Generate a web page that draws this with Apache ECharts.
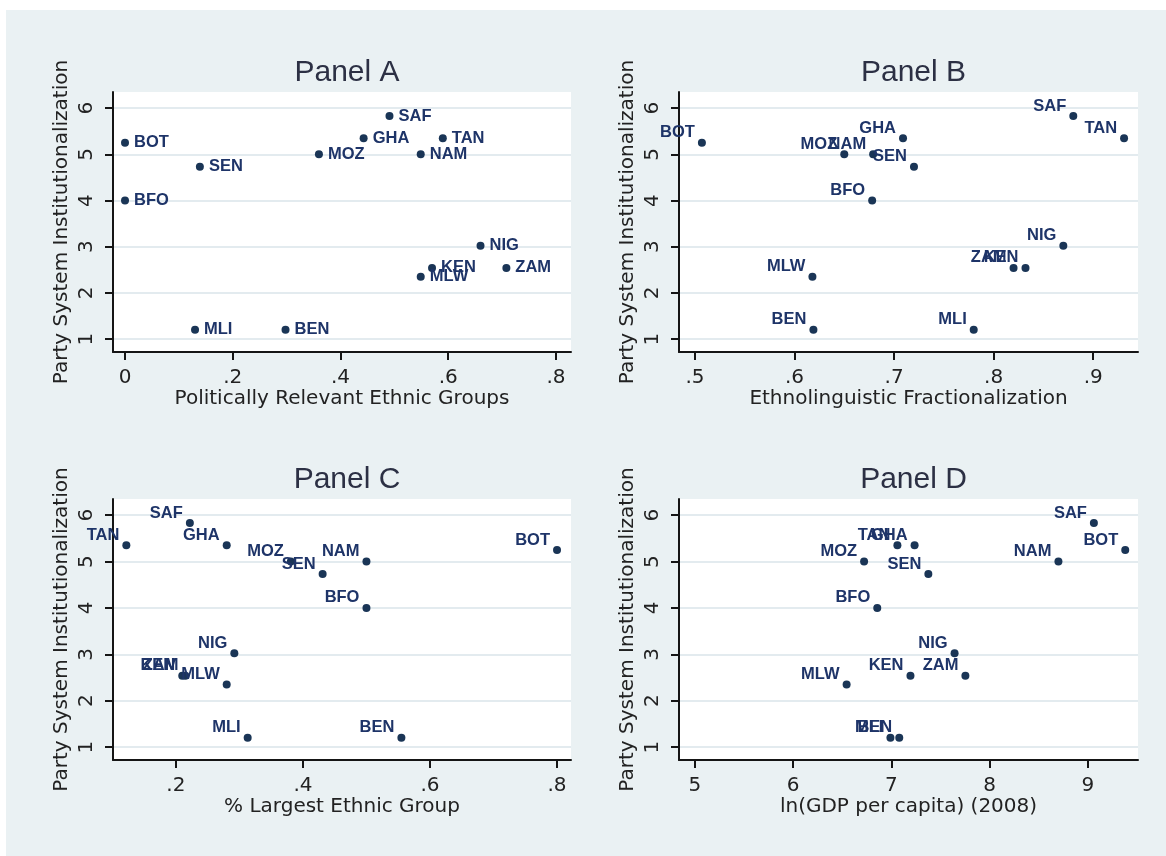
<!DOCTYPE html>
<html>
<head>
<meta charset="utf-8">
<script src="https://cdn.jsdelivr.net/npm/echarts@6/dist/echarts.min.js"></script>
<style>
  html, body { margin: 0; padding: 0; background: #ffffff; }
  #main { position: absolute; left: 6px; top: 10px; width: 1160px; height: 846px; }
</style>
</head>
<body>
<div id="main"></div>
<script>
// ---- data ----
const countries = ['BOT','BFO','SEN','MLI','BEN','MOZ','GHA','SAF','TAN','NAM','NIG','KEN','MLW','ZAM'];
const partySysInst = [5.25, 4.0, 4.73, 1.2, 1.2, 5.0, 5.35, 5.83, 5.35, 5.0, 3.02, 2.54, 2.35, 2.54];
const polRelevantGroups = [0, 0, 0.139, 0.130, 0.298, 0.360, 0.443, 0.491, 0.590, 0.549, 0.660, 0.570, 0.549, 0.708];
const ethnoFrac = [0.507, 0.678, 0.720, 0.780, 0.619, 0.650, 0.709, 0.880, 0.931, 0.679, 0.870, 0.832, 0.618, 0.820];
const largestGroup = [0.800, 0.500, 0.431, 0.313, 0.555, 0.381, 0.280, 0.222, 0.122, 0.500, 0.292, 0.210, 0.280, 0.215];
const lnGdp = [9.38, 6.856, 7.376, 6.99, 7.08, 6.722, 7.236, 9.061, 7.061, 8.70, 7.643, 7.194, 6.544, 7.753];

const panelTitles = ['Panel A', 'Panel B', 'Panel C', 'Panel D'];
const xTitles = ['Politically Relevant Ethnic Groups', 'Ethnolinguistic Fractionalization', '% Largest Ethnic Group', 'ln(GDP per capita) (2008)'];
const yTitle = 'Party System Institutionalization';
const xTicksA = [0, 0.2, 0.4, 0.6, 0.8];
const xTicksB = [0.5, 0.6, 0.7, 0.8, 0.9];
const xTicksC = [0.2, 0.4, 0.6, 0.8];
const xTicksD = [5, 6, 7, 8, 9];
const yTicks = [1, 2, 3, 4, 5, 6];

// ---- layout / style ----
const grids = [
  { left: 107, top: 82, width: 458, height: 260 },
  { left: 673, top: 82, width: 459, height: 260 },
  { left: 107, top: 489, width: 458, height: 261 },
  { left: 673, top: 489, width: 459, height: 261 }
];
const xRanges = [[-0.0223, 0.828], [0.484, 0.945], [0.101, 0.822], [4.838, 9.51]];
const yRange = [0.72, 6.35];
const xSets = [polRelevantGroups, ethnoFrac, largestGroup, lnGdp];
const xTickSets = [xTicksA, xTicksB, xTicksC, xTicksD];

const axisColor = '#151515';
const textColor = '#222';
const markColor = '#1a3556';
const labelColor = '#1e3468';

function fmt(v) {
  if (Math.abs(v) < 1e-9) return '0';
  const s = String(Math.round(v * 100) / 100);
  return s.replace(/^0\./, '.');
}

const option = {
  backgroundColor: '#eaf1f3',
  animation: false,
  title: panelTitles.map((t, i) => ({
    text: t,
    left: grids[i].left + grids[i].width / 2,
    top: i < 2 ? 43 : 450,
    textAlign: 'center',
    textStyle: { fontFamily: 'Liberation Sans, Arial, sans-serif', fontSize: 30, fontWeight: 'normal', color: '#2c3044' }
  })),
  grid: grids.map(g => Object.assign({ show: true, backgroundColor: '#ffffff', borderWidth: 0 }, g)),
  xAxis: grids.map((g, i) => ({
    gridIndex: i,
    type: 'value',
    min: xRanges[i][0],
    max: xRanges[i][1],
    axisLine: { show: true, onZero: false, lineStyle: { color: axisColor, width: 2 } },
    axisTick: { show: true, length: 8, customValues: xTickSets[i], lineStyle: { color: axisColor, width: 2 } },
    axisLabel: { customValues: xTickSets[i], formatter: fmt, margin: 16, fontSize: 20, fontFamily: 'DejaVu Sans, sans-serif', color: textColor },
    splitLine: { show: false },
    name: xTitles[i],
    nameLocation: 'middle',
    nameGap: 33,
    nameTextStyle: { fontSize: 20, fontFamily: 'DejaVu Sans, sans-serif', color: textColor }
  })),
  yAxis: grids.map((g, i) => ({
    gridIndex: i,
    type: 'value',
    min: yRange[0],
    max: yRange[1],
    axisLine: { show: true, onZero: false, lineStyle: { color: axisColor, width: 2 } },
    axisTick: { show: true, length: 8, customValues: yTicks, lineStyle: { color: axisColor, width: 2 } },
    axisLabel: { customValues: yTicks, formatter: fmt, rotate: 90, margin: 16, fontSize: 20, fontFamily: 'DejaVu Sans, sans-serif', color: textColor },
    splitLine: { show: true, lineStyle: { color: '#e3ebef', width: 2 } },
    name: yTitle,
    nameLocation: 'middle',
    nameGap: 41,
    nameTextStyle: { fontSize: 20, fontFamily: 'DejaVu Sans, sans-serif', color: textColor }
  })),
  series: xSets.map((xs, i) => ({
    type: 'scatter',
    xAxisIndex: i,
    yAxisIndex: i,
    symbol: 'circle',
    symbolSize: 8,
    itemStyle: { color: markColor, opacity: 1 },
    label: {
      show: true,
      formatter: '{b}',
      position: i === 0 ? 'right' : 'left',
      distance: i === 0 ? 5 : 3,
      offset: i === 0 ? [0, 0] : [0, -10],
      fontFamily: 'Liberation Sans, Arial, sans-serif',
      fontSize: 16.5,
      fontWeight: 'bold',
      color: labelColor
    },
    data: countries.map((c, k) => ({ name: c, value: [xs[k], partySysInst[k]] }))
  }))
};

const chart = echarts.init(document.getElementById('main'), null, { renderer: 'canvas' });
chart.setOption(option);
</script>
</body>
</html>
